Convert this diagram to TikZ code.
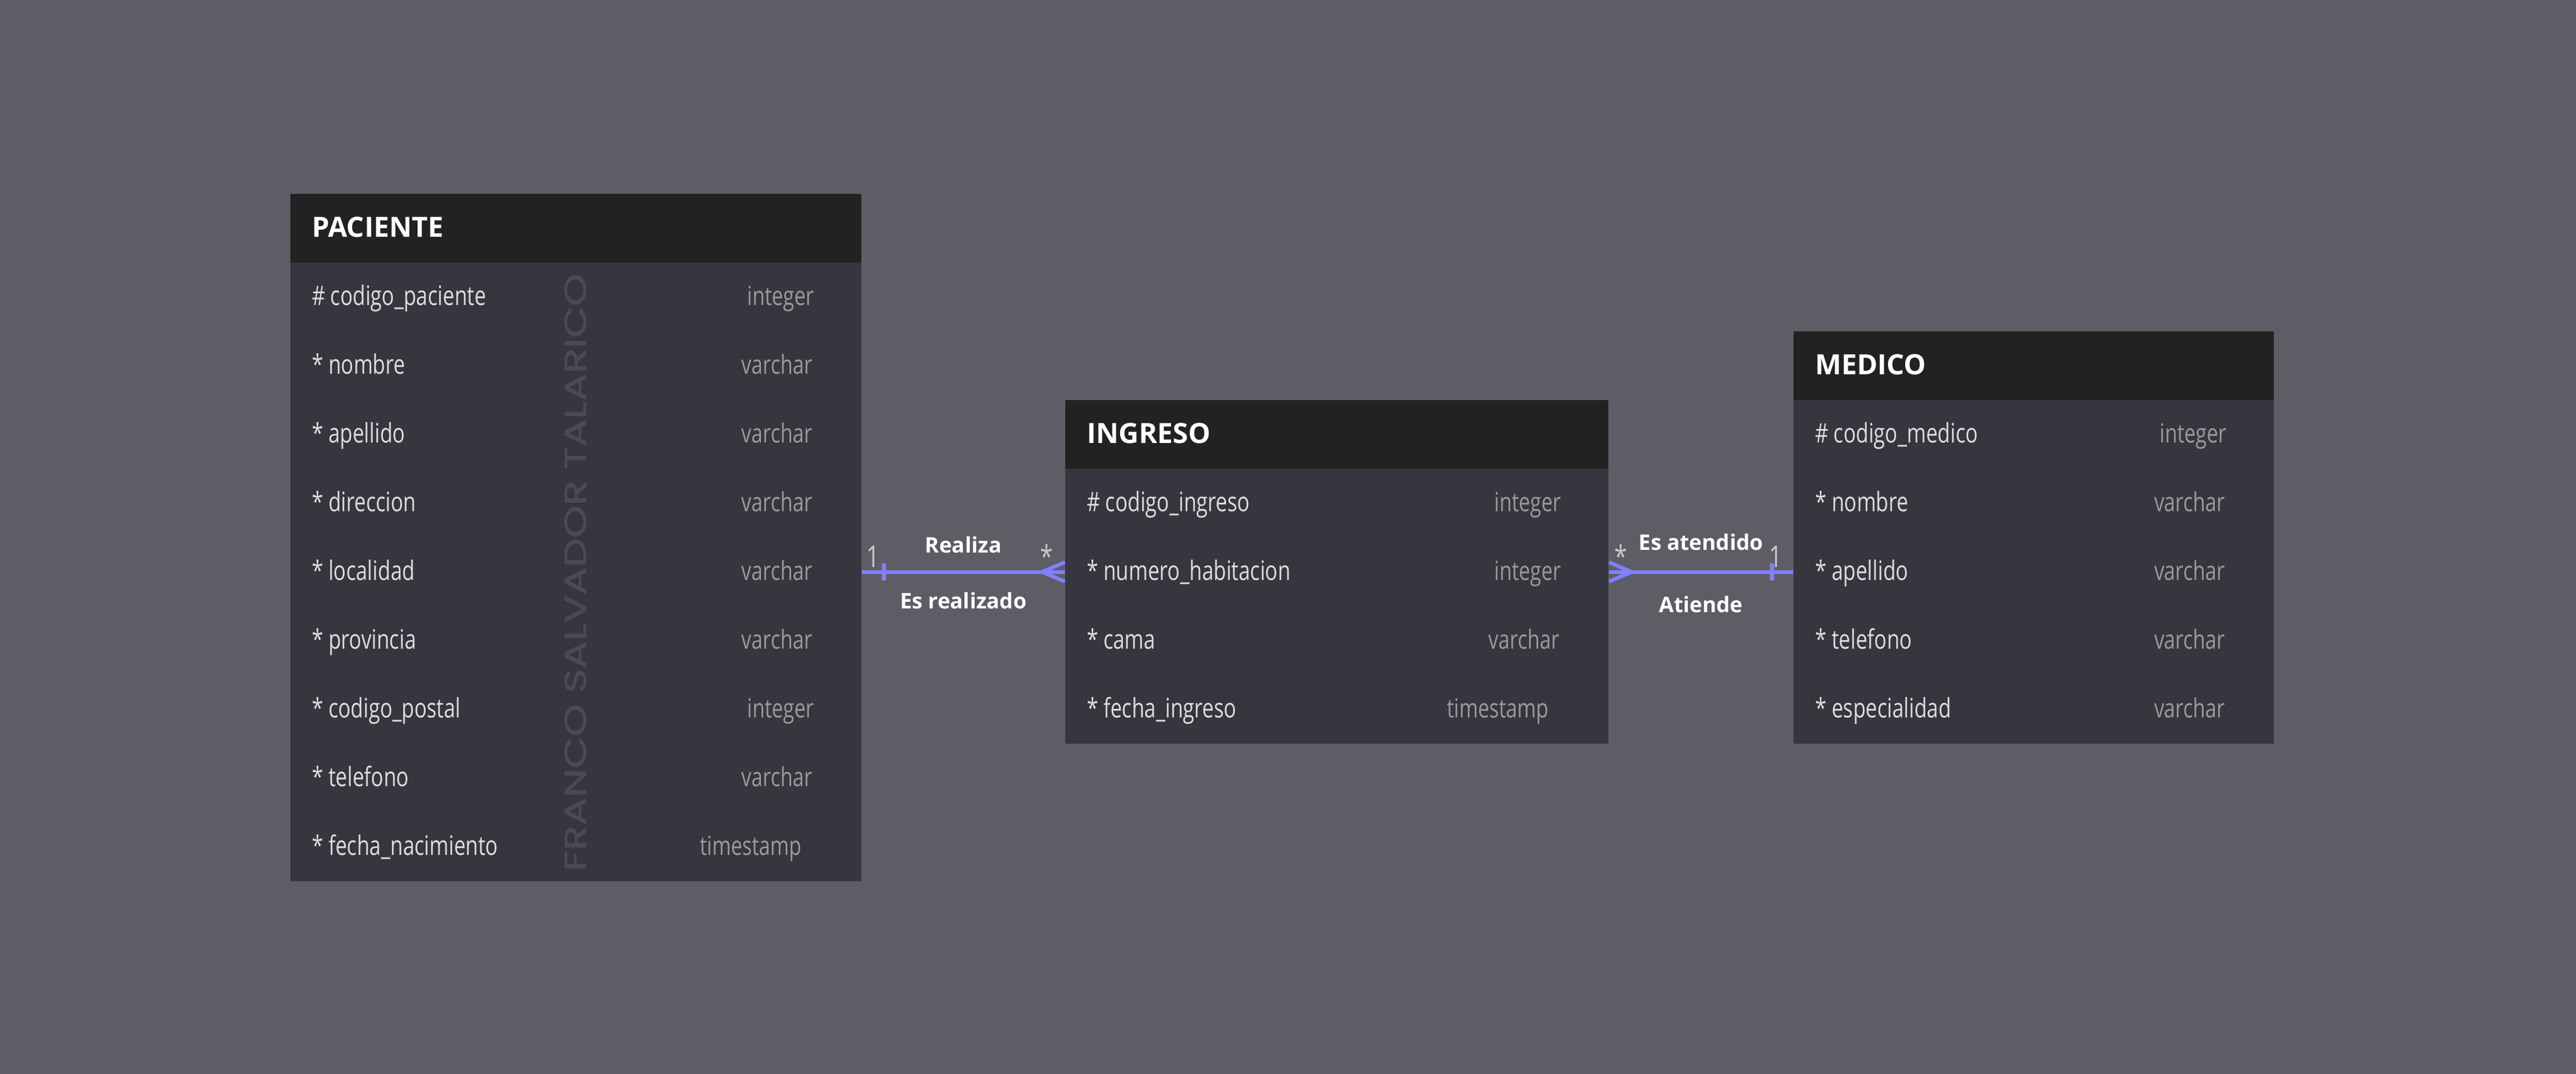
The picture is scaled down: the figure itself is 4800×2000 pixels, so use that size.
\documentclass[tikz,border=0pt]{standalone}
\usepackage{fontspec}
\setmainfont{Open Sans}
\newfontfamily\condfont[FakeStretch=0.77]{Open Sans}
\newfontfamily\wmfont[FakeBold=1.6]{Poppins}
\usetikzlibrary{calc}
\definecolor{bgc}{HTML}{5E5D65}
\definecolor{hdrc}{HTML}{222222}
\definecolor{bodyc}{HTML}{36363F}
\definecolor{attrc}{HTML}{DDDDDD}
\definecolor{typc}{HTML}{9A9A9A}
\definecolor{cardc}{HTML}{C8C8C8}
\definecolor{relc}{HTML}{8080FF}
\definecolor{wmc}{HTML}{4A4A52}
\tikzset{
  hdrbox/.style={fill=hdrc, draw=none, rectangle, inner sep=0pt, anchor=north west, minimum height=25.6pt},
  bodybox/.style={fill=bodyc, draw=none, rectangle, inner sep=0pt, anchor=north west},
  title/.style={text=white, inner sep=0pt, anchor=base west, font=\bfseries\fontsize{10.4pt}{12pt}\selectfont},
  attr/.style={text=attrc, inner sep=0pt, anchor=base west, font=\condfont\fontsize{10pt}{12pt}\selectfont},
  typ/.style={text=typc, inner sep=0pt, anchor=base east, font=\condfont\fontsize{9.8pt}{12pt}\selectfont},
  card/.style={text=cardc, inner sep=0pt, anchor=base, font=\condfont\fontsize{11.2pt}{13pt}\selectfont},
  rlab/.style={text=white, inner sep=0pt, anchor=base, font=\bfseries\fontsize{8pt}{9pt}\selectfont},
  rel/.style={draw=relc, line width=1.4pt, line cap=butt},
  reltick/.style={draw=relc, line width=1.6pt, line cap=butt},
  wmark/.style={text=wmc, inner sep=0pt, rotate=90}
}
\begin{document}
\begin{tikzpicture}[x=0.2pt,y=-0.2pt]
\useasboundingbox (0,0) rectangle (4800,2000);
\fill[bgc] (0,0) rectangle (4800,2000);

% ---------- PACIENTE ----------
\node[hdrbox, minimum width=212.8pt] (pacH) at (540,360) {};
\node[bodybox, minimum width=212.8pt, minimum height=230.4pt] (pacB) at (540,488) {};
\node[wmark] (wm) at (1072,1066) {\resizebox{222.6pt}{8pt}{\wmfont FRANCO SALVADOR TALARICO}};
\node[title] (pacT) at (580,441) {PACIENTE};
\node[attr] (pacA1) at (580,568) {\# codigo\_paciente};
\node[typ]  (pacY1) at (1518,568) {integer};
\node[attr] (pacA2) at (580,696) {* nombre};
\node[typ]  (pacY2) at (1515,696) {varchar};
\node[attr] (pacA3) at (580,824) {* apellido};
\node[typ]  (pacY3) at (1515,824) {varchar};
\node[attr] (pacA4) at (580,952) {* direccion};
\node[typ]  (pacY4) at (1515,952) {varchar};
\node[attr] (pacA5) at (580,1080) {* localidad};
\node[typ]  (pacY5) at (1515,1080) {varchar};
\node[attr] (pacA6) at (580,1208) {* provincia};
\node[typ]  (pacY6) at (1515,1208) {varchar};
\node[attr] (pacA7) at (580,1336) {* codigo\_postal};
\node[typ]  (pacY7) at (1518,1336) {integer};
\node[attr] (pacA8) at (580,1464) {* telefono};
\node[typ]  (pacY8) at (1515,1464) {varchar};
\node[attr] (pacA9) at (580,1592) {* fecha\_nacimiento};
\node[typ]  (pacY9) at (1495,1592) {timestamp};

% ---------- INGRESO ----------
\node[hdrbox, minimum width=202.4pt] (ingH) at (1984,744) {};
\node[bodybox, minimum width=202.4pt, minimum height=102.4pt] (ingB) at (1984,872) {};
\node[title] (ingT) at (2024,825) {INGRESO};
\node[attr] (ingA1) at (2024,952) {\# codigo\_ingreso};
\node[typ]  (ingY1) at (2910,952) {integer};
\node[attr] (ingA2) at (2024,1080) {* numero\_habitacion};
\node[typ]  (ingY2) at (2910,1080) {integer};
\node[attr] (ingA3) at (2024,1208) {* cama};
\node[typ]  (ingY3) at (2907,1208) {varchar};
\node[attr] (ingA4) at (2024,1336) {* fecha\_ingreso};
\node[typ]  (ingY4) at (2887,1336) {timestamp};

% ---------- MEDICO ----------
\node[hdrbox, minimum width=179pt] (medH) at (3341,616) {};
\node[bodybox, minimum width=179pt, minimum height=128pt] (medB) at (3341,744) {};
\node[title] (medT) at (3381,697) {MEDICO};
\node[attr] (medA1) at (3381,824) {\# codigo\_medico};
\node[typ]  (medY1) at (4150,824) {integer};
\node[attr] (medA2) at (3381,952) {* nombre};
\node[typ]  (medY2) at (4147,952) {varchar};
\node[attr] (medA3) at (3381,1080) {* apellido};
\node[typ]  (medY3) at (4147,1080) {varchar};
\node[attr] (medA4) at (3381,1208) {* telefono};
\node[typ]  (medY4) at (4147,1208) {varchar};
\node[attr] (medA5) at (3381,1336) {* especialidad};
\node[typ]  (medY5) at (4147,1336) {varchar};

% ---------- PACIENTE -- INGRESO ----------
\coordinate (r1a) at (pacB.east);
\coordinate (r1b) at (pacB.east -| ingB.west);
\draw[rel] (r1a) -- (r1b);
\draw[reltick] ($(r1a)+(41,-16)$) -- ++(0,32);
\draw[rel] ($(r1b)+(-42,0)$) -- ++(42,-18);
\draw[rel] ($(r1b)+(-42,0)$) -- ++(42,18);
\node[card] (c1a) at (1627,1056) {1};
\node[card] (c1b) at (1950,1056) {*};
\node[rlab] (l1a) at ($(r1a)!0.5!(r1b)+(0,-36)$) {Realiza};
\node[rlab] (l1b) at ($(r1a)!0.5!(r1b)+(0,68)$) {Es realizado};

% ---------- INGRESO -- MEDICO ----------
\coordinate (r2a) at (medB.west -| ingB.east);
\coordinate (r2b) at (medB.west);
\draw[rel] (r2a) -- (r2b);
\draw[reltick] ($(r2b)+(-39,-16)$) -- ++(0,32);
\draw[rel] ($(r2a)+(0,-18)$) -- ++(42,18) -- ++(-42,18);
\node[card] (c2a) at (3020,1056) {*};
\node[card] (c2b) at (3309,1056) {1};
\node[rlab] (l2a) at ($(r2a)!0.5!(r2b)+(0,-41)$) {Es atendido};
\node[rlab] (l2b) at ($(r2a)!0.5!(r2b)+(0,75)$) {Atiende};
\end{tikzpicture}
\end{document}
